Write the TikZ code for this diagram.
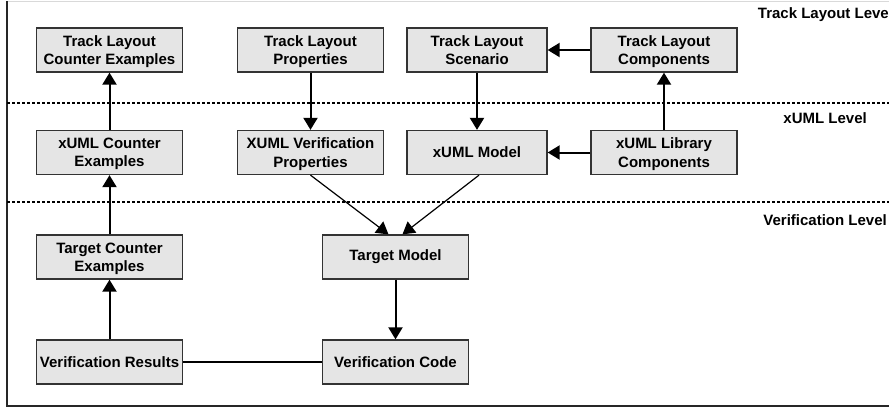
\documentclass[tikz,border=0pt]{standalone}
\usepackage{fontspec}
\setmainfont{Liberation Sans}
\usetikzlibrary{arrows.meta}
\begin{document}
\begin{tikzpicture}[x=1pt,y=-1pt,
  box/.style={draw=black!80,fill=black!10,line width=1.3pt,minimum width=146pt,minimum height=44pt,
    inner sep=0pt,align=center,font=\fontsize{15}{18.3}\selectfont\bfseries},
  narrow/.style={minimum width=140pt},
  two/.style={text depth=0pt},
  lvl/.style={inner sep=0pt,font=\fontsize{15}{18}\selectfont\bfseries},
  tip/.style={-{Triangle[length=12pt,width=14pt]}},
  arr/.style={line width=2pt,tip},
  thinarr/.style={line width=1.2pt,tip},
  plain/.style={line width=2pt},
  lvline/.style={line width=1.4pt,dash pattern=on 3pt off 2pt}]
\useasboundingbox (0,0) rectangle (889,408);
% frame
\draw[black!15,line width=1pt] (7,1) -- (889,1);
\draw[black!85,line width=1.3pt] (7,1) -- (7,406) -- (889,406);
% level lines
\draw[lvline] (7,103) -- (889,103);
\draw[lvline] (7,202) -- (889,202);
% level labels
\node[lvl,anchor=east] (l1) at (889,15) {Track Layout Leve};
\node[lvl,anchor=east] (l2) at (867,118) {xUML Level};
\node[lvl,anchor=east] (l3) at (887,220) {Verification Level};
% boxes
\node[box,two] (tlce) at (109.5,50) {Track Layout\\Counter Examples};
\node[box,two] (tlp) at (310.5,50) {Track Layout\\Properties};
\node[box,narrow,two] (tls) at (477,50) {Track Layout\\Scenario};
\node[box,two] (tlc) at (664,50) {Track Layout\\Components};
\node[box,two] (xce) at (109.5,152.5) {xUML Counter\\Examples};
\node[box,two] (xvp) at (310.5,152.5) {XUML Verification\\Properties};
\node[box,narrow] (xm) at (477,152.5) {xUML Model};
\node[box,two] (xlc) at (664,152.5) {xUML Library\\Components};
\node[box,two] (tce) at (109.5,257) {Target Counter\\Examples};
\node[box] (tm) at (395.5,257) {Target Model};
\node[box] (vr) at (109.5,362) {Verification Results};
\node[box] (vc) at (395.5,362) {Verification Code};
% connectors
\draw[arr] (xce.north) -- (tlce.south);
\draw[arr] (tlp.south) -- (xvp.north);
\draw[arr] (tls.south) -- (xm.north);
\draw[arr] (tlc.west) -- (tls.east);
\draw[arr] (xlc.north) -- (tlc.south);
\draw[arr] (xlc.west) -- (xm.east);
\draw[arr] (tce.north) -- (xce.south);
\draw[arr] (vr.north) -- (tce.south);
\draw[arr] (tm.south) -- (vc.north);
\draw[plain] (vr.east) -- (vc.west);
\draw[thinarr] (xvp.south) -- ([xshift=-7pt]tm.north);
\draw[thinarr] ([xshift=2pt]xm.south) -- ([xshift=7pt]tm.north);
\end{tikzpicture}
\end{document}
